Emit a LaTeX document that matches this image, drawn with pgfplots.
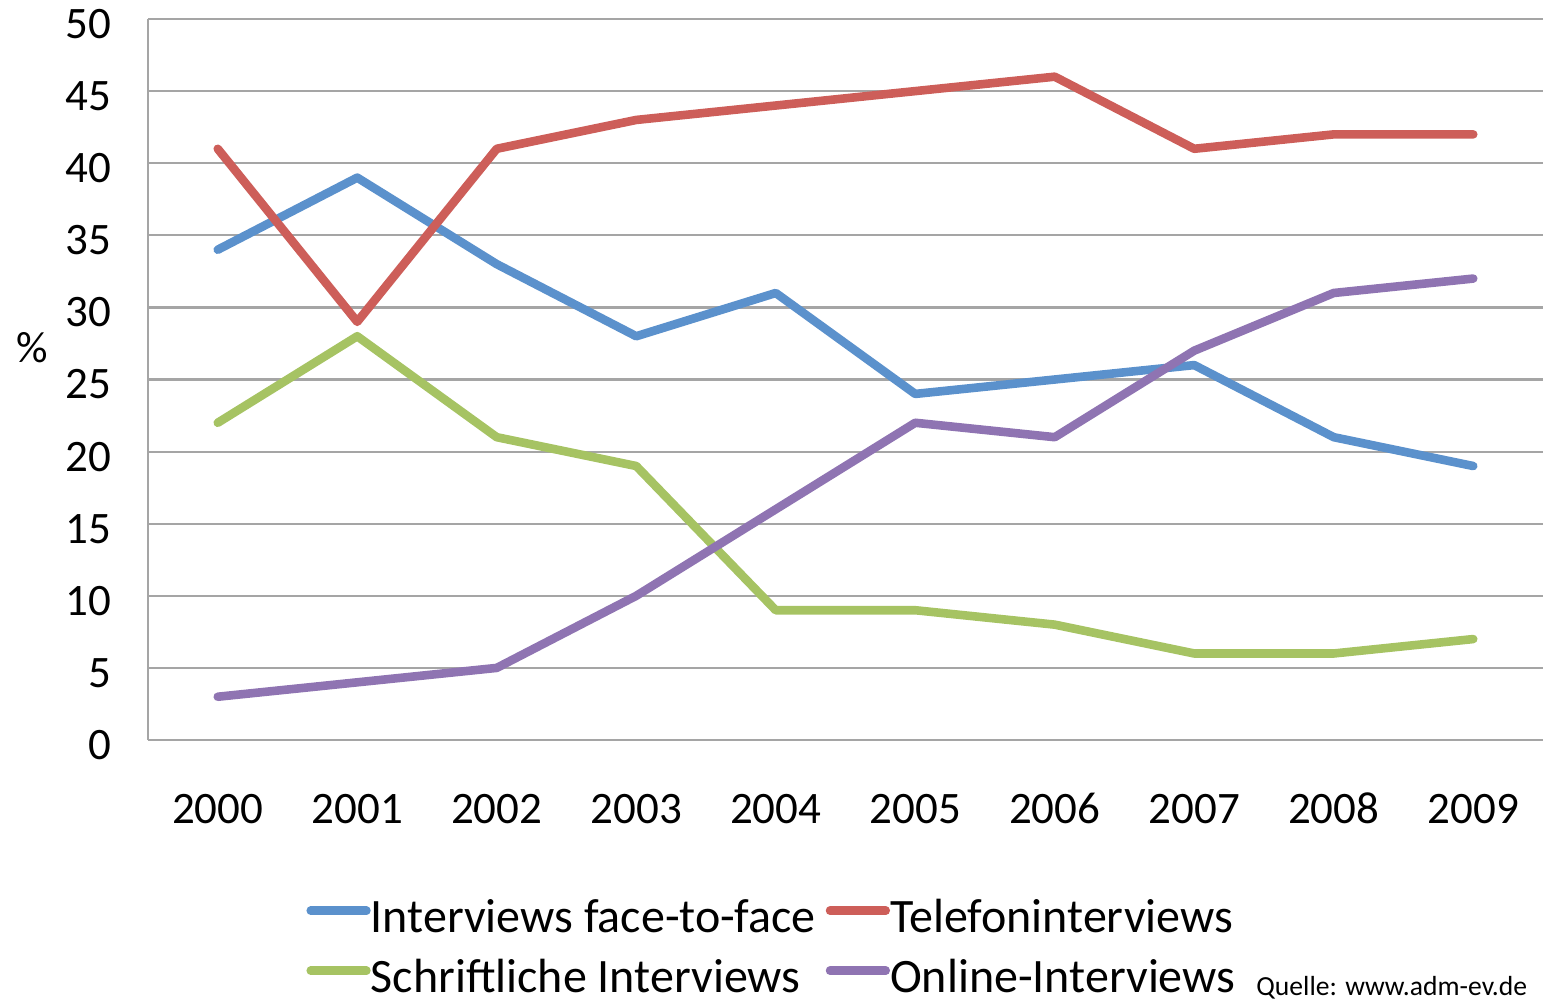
\documentclass[border=0pt]{standalone}
\usepackage{fontspec}
\setmainfont{Carlito}
\usepackage{pgfplots}
\pgfplotsset{compat=1.18}
\definecolor{cBlue}{RGB}{91,145,204}
\definecolor{cRed}{RGB}{205,94,89}
\definecolor{cGreen}{RGB}{166,195,99}
\definecolor{cPurple}{RGB}{143,116,178}
\definecolor{gridgray}{RGB}{165,165,165}
\begin{document}
\begin{tikzpicture}
\path[use as bounding box] (-74pt,-131.5pt) rectangle (697.5pt,370pt);
\begin{axis}[
    at={(0pt,0pt)}, anchor=south west,
    scale only axis,
    width=697.5pt, height=360.5pt,
    xmin=-0.5, xmax=9.5, ymin=0, ymax=50,
    xtick={0,1,2,3,4,5,6,7,8,9},
    xticklabels={2000,2001,2002,2003,2004,2005,2006,2007,2008,2009},
    ytick={0,5,...,50},
    ymajorgrids,
    grid style={gridgray, line width=1.1pt},
    axis x line*=bottom, axis y line*=left,
    axis line style={gridgray, line width=1.1pt, -},
    major tick length=0pt,
    tick label style={font=\fontsize{22.5}{26}\selectfont},
    /pgf/number format/assume math mode=true,
    yticklabel style={xshift=-15pt, yshift=-2.5pt},
    xticklabel style={yshift=-23pt, text height=15pt, text depth=0pt},
    legend columns=2,
    legend style={
        at={(axis description cs:0.1090,-0.214)}, anchor=north west,
        draw=none, fill=none,
        font=\fontsize{24}{28}\selectfont,
        nodes={inner sep=0pt, text height=17pt, text depth=1pt},
        row sep=12pt,
        /tikz/every even column/.append style={column sep=5pt},
    },
    legend cell align=left,
    legend image code/.code={
        \draw[#1, line width=4.5pt, line cap=round] (2.25pt,3pt) -- (27.75pt,3pt);
        \path (0pt,3pt) -- (27.5pt,3pt);
    },
    every axis plot/.append style={line width=4.3pt, line join=round, line cap=round},
  ]
  \addplot[cBlue] coordinates {
    (0,34) (1,39) (2,33) (3,28) (4,31) (5,24) (6,25) (7,26) (8,21) (9,19)
  };
  \addlegendentry{Interviews face-to-face}
  \addplot[cRed] coordinates {
    (0,41) (1,29) (2,41) (3,43) (4,44) (5,45) (6,46) (7,41) (8,42) (9,42)
  };
  \addlegendentry{Telefoninterviews}
  \addplot[cGreen] coordinates {
    (0,22) (1,28) (2,21) (3,19) (4,9) (5,9) (6,8) (7,6) (8,6) (9,7)
  };
  \addlegendentry{Schriftliche Interviews}
  \addplot[cPurple] coordinates {
    (0,3) (1,4) (2,5) (3,10) (4,16) (5,22) (6,21) (7,27) (8,31) (9,32)
  };
  \addlegendentry{Online-Interviews}
\end{axis}
\node[font=\fontsize{22}{26}\selectfont] at (-58pt,196pt) {\%};
\node[anchor=base west, inner sep=0pt, font=\fontsize{13.8}{16}\selectfont] at (554pt,-127.5pt) {Quelle: www.adm-ev.de};
\end{tikzpicture}
\end{document}
